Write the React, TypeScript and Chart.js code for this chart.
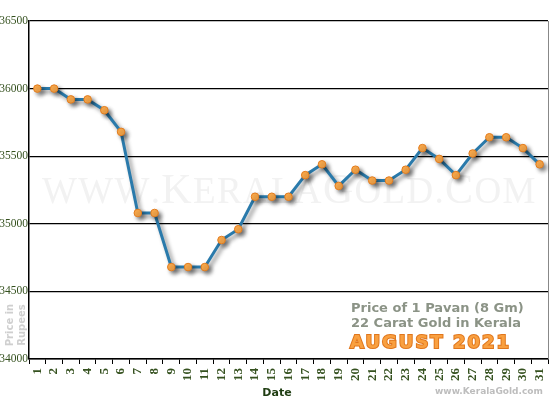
import { useEffect, useRef } from 'react'
import { Chart, registerables } from 'chart.js'
import type { Plugin } from 'chart.js'

Chart.register(...registerables)

const days = Array.from({ length: 31 }, (_, i) => String(i + 1))
const prices = [
  36000, 36000, 35920, 35920, 35840, 35680, 35080, 35080, 34680, 34680,
  34680, 34880, 34960, 35200, 35200, 35200, 35360, 35440, 35280, 35400,
  35320, 35320, 35400, 35560, 35480, 35360, 35520, 35640, 35640, 35560,
  35440,
]
const yTicks = [34000, 34500, 35000, 35500, 36000, 36500]

const green = '#35511f'

// watermark, shadow under the line, captions
const decor: Plugin<'line'> = {
  id: 'decor',
  beforeDatasetsDraw(chart) {
    const { ctx, chartArea } = chart
    ctx.save()
    ctx.fillStyle = '#f2f2f2'
    ctx.textBaseline = 'alphabetic'
    const parts: [string, number][] = [['WWW.', 37], ['K', 42], ['ERALA', 37], ['G', 42], ['OLD.', 37], ['C', 42], ['OM', 37]]
    let total = 0
    let chars = 0
    for (const [t, s] of parts) {
      ctx.font = `${s}px "Liberation Serif"`
      total += ctx.measureText(t).width
      chars += t.length
    }
    const gap = (490 - total) / (chars - 1)
    let x = 42
    for (const [t, s] of parts) {
      ctx.font = `${s}px "Liberation Serif"`
      for (const ch of t) {
        ctx.fillText(ch, x, 203)
        x += ctx.measureText(ch).width + gap
      }
    }
    ctx.restore()
    // right border
    ctx.save()
    ctx.strokeStyle = '#888'
    ctx.lineWidth = 1
    ctx.beginPath()
    ctx.moveTo(chartArea.right + 0.5, chartArea.top)
    ctx.lineTo(chartArea.right + 0.5, chartArea.bottom)
    ctx.stroke()
    ctx.restore()
    ctx.save()
    ctx.shadowColor = 'rgba(0,0,0,0.45)'
    ctx.shadowBlur = 4
    ctx.shadowOffsetX = 3
    ctx.shadowOffsetY = 3
  },
  afterDatasetsDraw(chart) {
    chart.ctx.restore()
  },
  afterDraw(chart) {
    const { ctx } = chart
    ctx.save()
    ctx.textBaseline = 'alphabetic'
    ctx.textAlign = 'left'
    ctx.font = 'bold 13px "DejaVu Sans"'
    ctx.fillStyle = '#8b9386'
    ctx.fillText('Price of 1 Pavan (8 Gm)', 351, 312)
    ctx.fillText('22 Carat Gold in Kerala', 351, 327)
    ctx.font = 'bold 18px "DejaVu Sans"'
    ;(ctx as any).letterSpacing = '2px'
    ctx.lineWidth = 2
    ctx.strokeStyle = '#e0761c'
    ctx.strokeText('AUGUST 2021', 350, 348)
    ctx.fillStyle = '#f9a040'
    ctx.fillText('AUGUST 2021', 350, 348)
    ;(ctx as any).letterSpacing = '0px'
    ctx.font = 'bold 9px "DejaVu Sans"'
    ctx.fillStyle = '#bdbdbd'
    ctx.fillText('www.KeralaGold.com', 435, 394)
    ctx.font = 'bold 11px "DejaVu Sans"'
    ctx.fillStyle = '#1f3d12'
    ctx.textAlign = 'center'
    ctx.fillText('Date', 277, 396)
    ctx.fillStyle = '#cfcfcf'
    ctx.font = 'bold 10px "DejaVu Sans"'
    ctx.translate(13, 325)
    ctx.rotate(-Math.PI / 2)
    ctx.fillText('Price in', 0, 0)
    ctx.fillText('Rupees', 0, 12)
    ctx.restore()
  },
}

export default function App() {
  const ref = useRef<HTMLCanvasElement>(null)
  useEffect(() => {
    if (!ref.current) return
    const chart = new Chart(ref.current, {
      type: 'line',
      data: {
        labels: days,
        datasets: [{
          data: prices,
          borderColor: '#2a7aab',
          borderWidth: 3,
          pointRadius: 3.8,
          pointBackgroundColor: '#fbaa4c',
          pointBorderColor: '#e27c1e',
          pointBorderWidth: 1,
          tension: 0,
        }],
      },
      options: {
        animation: false,
        responsive: false,
        devicePixelRatio: 1,
        layout: { autoPadding: false, padding: { top: 21, right: 2, left: 0, bottom: 0 } },
        plugins: { legend: { display: false }, tooltip: { enabled: false } },
        scales: {
          x: {
            offset: true,
            afterFit: (s: any) => { s.height = 41; s.paddingLeft = 0; s.paddingRight = 0 },
            grid: { offset: true, drawOnChartArea: false, drawTicks: true, tickLength: 5, color: '#000' },
            border: { color: '#000', width: 1.5 },
            ticks: {
              autoSkip: false, minRotation: 90, maxRotation: 90, padding: 4,
              color: green, font: { family: '"Liberation Serif"', size: 13, weight: 'bold' },
            },
          },
          y: {
            min: 34000,
            max: 36500,
            afterFit: (s: any) => { s.width = 29; s.paddingTop = 0; s.paddingBottom = 0 },
            afterBuildTicks: (s: any) => { s.ticks = yTicks.map(v => ({ value: v })) },
            grid: { color: '#000', lineWidth: 1.3, drawTicks: false },
            border: { color: '#000', width: 1.5 },
            ticks: {
              padding: 1,
              callback: (v: any) => String(v),
              color: green, font: { family: '"Liberation Serif"', size: 11.5 },
            },
          },
        },
      },
      plugins: [decor],
    })
    return () => chart.destroy()
  }, [])
  return (
    <div style={{ position: 'absolute', left: 0, top: 0, width: 550, height: 400, background: '#fff' }}>
      <canvas ref={ref} width={550} height={400} style={{ width: 550, height: 400 }} />
    </div>
  )
}
